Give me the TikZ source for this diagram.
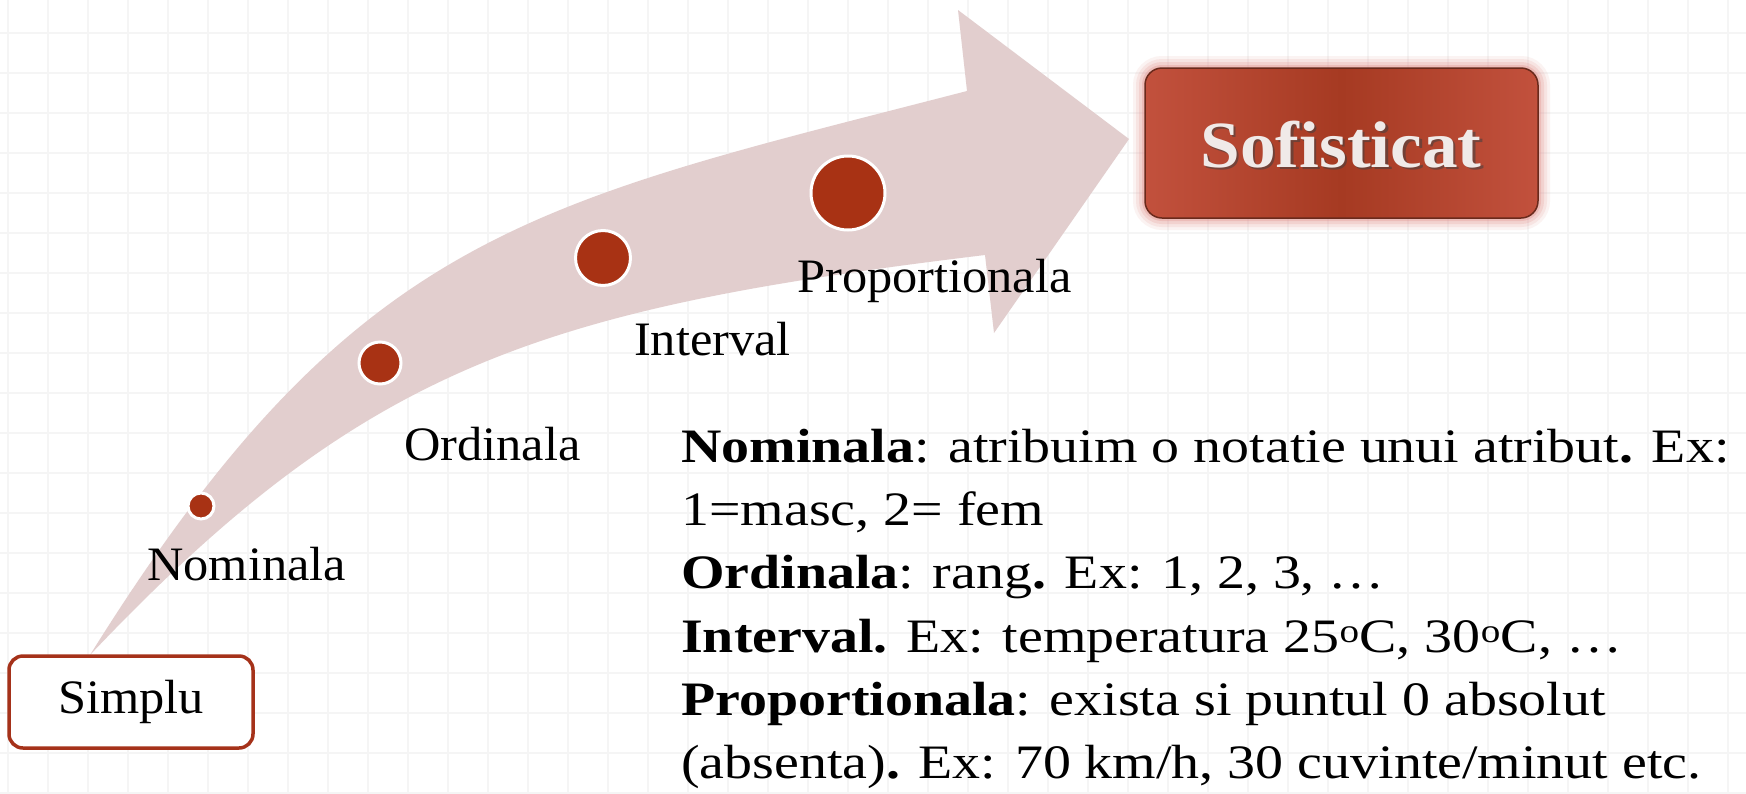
\documentclass[tikz,border=0pt]{standalone}
\usepackage{fontspec}
\setmainfont{Liberation Serif}[FakeStretch=1.05]
\newfontfamily\bodyfont{Liberation Serif}[FakeStretch=1.165]
\newfontfamily\titlefont{Liberation Serif}[FakeStretch=1.08]
\definecolor{gridcol}{HTML}{F5F5F5}
\definecolor{arrowfill}{HTML}{E2CECE}
\definecolor{dotred}{HTML}{A83214}
\definecolor{boxred}{HTML}{A5321A}
\definecolor{sofL}{HTML}{C2513D}
\definecolor{sofM}{HTML}{A63A22}
\definecolor{sofB}{HTML}{6A2A1C}
\definecolor{glowcol}{HTML}{E08A86}
\definecolor{softext}{HTML}{F0EAE8}
\tikzset{
  dot/.style={circle, fill=dotred, draw=white, line width=3pt, inner sep=0pt},
  lbl/.style={anchor=base west, font=\fontsize{48}{58}\selectfont, inner sep=0pt},
  bodyline/.style={anchor=base west, font=\bodyfont\fontsize{48}{58}\selectfont, inner sep=0pt},
  simplubox/.style={draw=boxred, fill=white, line width=3.5pt, rounded corners=14pt,
    minimum width=244pt, minimum height=92pt, inner sep=0pt, font=\fontsize{48}{58}\selectfont},
  sofbox/.style={rounded corners=17pt, minimum width=393pt, minimum height=150pt,
    left color=sofL, right color=sofL, middle color=sofM, draw=sofB, line width=1.5pt},
  soffont/.style={anchor=base, inner sep=0pt, font=\titlefont\bfseries\fontsize{66}{70}\selectfont},
  glow/.style={draw=glowcol, rounded corners=17pt},
}
\begin{document}
\begin{tikzpicture}[x=1pt,y=-1pt]
\useasboundingbox (0,0) rectangle (1746,793);
\fill[white] (0,0) rectangle (1746,793);
% grid
\foreach \gx in {8,48,...,1746} \draw[gridcol, line width=1.5pt] (\gx,0) -- (\gx,793);
\foreach \gy in {33,73,...,793} \draw[gridcol, line width=1.5pt] (0,\gy) -- (1746,\gy);
% curved arrow
\fill[arrowfill] (90,655) .. controls (355,230) and (530,204) .. (967,91)
  -- (958,10) -- (1129,139) -- (994,333) -- (985,255)
  .. controls (540,309) and (365,365) .. (90,655) -- cycle;
% dots
\node[dot, minimum size=26pt] (d1) at (201,506) {};
\node[dot, minimum size=42pt] (d2) at (380,363) {};
\node[dot, minimum size=55pt] (d3) at (603,258) {};
\node[dot, minimum size=74pt] (d4) at (848,193) {};
% labels
\node[lbl] (nom) at (147,580) {Nominala};
\node[lbl] (ord) at (404,460) {Ordinala};
\node[lbl] (int) at (634,355) {Interval};
\node[lbl] (prop) at (797,292) {Proportionala};
% Simplu
\node[simplubox] (simplu) at (131,702) {Simplu};
% Sofisticat
\foreach \w/\o in {24/0.10, 18/0.14, 12/0.2, 6/0.3}
  \draw[glow, line width=\w pt, opacity=\o] (1145,68) rectangle (1538,218);
\node[sofbox] (sof) at (1341.5,143) {};
\node[soffont, text=black!75, opacity=0.55] (sofshadow) at (1343.5,169.5) {Sofisticat};
\node[soffont, text=softext] (softxt) at (1341,167) {Sofisticat};
% body text
\node[bodyline] (l1) at (681,462) {\textbf{Nominala}: atribuim o notatie unui atribut\textbf{.} Ex:};
\node[bodyline] (l2) at (681,525) {1=masc, 2= fem};
\node[bodyline] (l3) at (681,588) {\textbf{Ordinala}: rang\textbf{.} Ex: 1, 2, 3, …};
\node[bodyline] (l4) at (681,652) {\textbf{Interval.} Ex: temperatura 25\textsuperscript{o}C, 30\textsuperscript{o}C, …};
\node[bodyline] (l5) at (681,715) {\textbf{Proportionala}: exista si puntul 0 absolut};
\node[bodyline] (l6) at (681,778) {(absenta)\textbf{.} Ex: 70 km/h, 30 cuvinte/minut etc.};
\end{tikzpicture}
\end{document}
